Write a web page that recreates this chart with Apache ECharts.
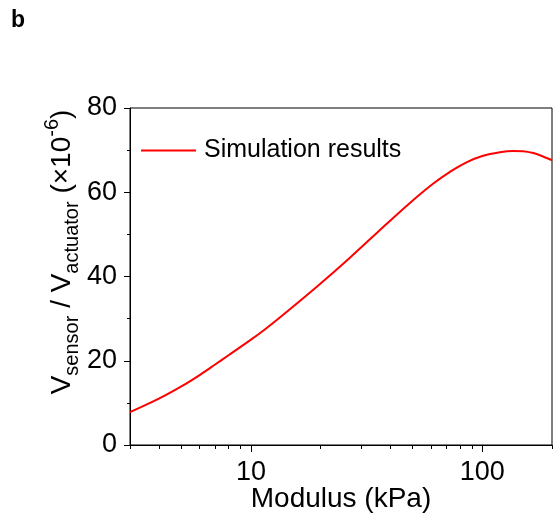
<!DOCTYPE html>
<html>
<head>
<meta charset="utf-8">
<script src="https://cdn.jsdelivr.net/npm/echarts@6/dist/echarts.min.js"></script>
<style>html,body{margin:0;padding:0;background:#fff}#c{width:556px;height:519px}</style>
</head>
<body>
<div id="c"></div>
<script>
var modulus = [3, 4, 5, 6, 7, 8, 10, 11.4, 13.7, 19.2, 26.7, 37.2, 48.5, 61.2, 72.7, 85.4, 100, 119, 136, 150, 166, 183, 200];
var voltageRatio = [7.8, 11.0, 13.9, 16.6, 19.1, 21.3, 25.0, 27.3, 30.8, 37.5, 44.4, 51.7, 57.4, 62.0, 64.9, 67.1, 68.6, 69.5, 69.8, 69.75, 69.3, 68.5, 67.6];
var seriesName = 'Simulation results';
var xMajorTicks = [10, 100];
var xMinorTicks = [3, 4, 5, 6, 7, 8, 9, 20, 30, 40, 50, 60, 70, 80, 90, 200];

var FONT = '"Liberation Sans", Arial, sans-serif';
var chart = echarts.init(document.getElementById('c'), null, {renderer: 'canvas'});
var data = modulus.map(function (m, i) { return [m, voltageRatio[i]]; });

var option = {
  animation: false,
  backgroundColor: '#fff',
  grid: {left: 130, right: 4, top: 108, bottom: 74, show: true, borderColor: '#000', borderWidth: 1,
    backgroundColor: 'transparent', containLabel: false, outerBoundsMode: 'none'},
  legend: {
    data: [{name: seriesName, icon: 'rect'}], left: 141, top: 138, padding: 0,
    itemWidth: 55, itemHeight: 2, itemGap: 0,
    itemStyle: {color: '#ff0000'},
    textStyle: {fontFamily: FONT, fontSize: 25, color: '#000', padding: [0, 0, 0, 3]}
  },
  xAxis: [{
    type: 'log', logBase: 10, min: 3, max: 200, position: 'bottom',
    axisLine: {show: true, lineStyle: {color: '#000', width: 1}},
    axisTick: {show: true, inside: false, length: 7, lineStyle: {color: '#000'}, customValues: xMajorTicks},
    axisLabel: {show: true, fontFamily: FONT, fontSize: 27, color: '#000', margin: 14, customValues: xMajorTicks,
      formatter: function (v) { return String(Math.round(v)); }},
    splitLine: {show: false}, minorTick: {show: false},
    name: 'Modulus (kPa)', nameLocation: 'middle', nameGap: 40, nameMoveOverlap: false,
    nameTextStyle: {fontFamily: FONT, fontSize: 28, color: '#000'}
  }, {
    type: 'log', logBase: 10, min: 3, max: 200, position: 'bottom',
    axisLine: {show: false},
    axisTick: {show: true, inside: false, length: 4, lineStyle: {color: '#000'}, customValues: xMinorTicks},
    axisLabel: {show: false},
    splitLine: {show: false}
  }],
  yAxis: {
    type: 'value', min: 0, max: 80, interval: 20,
    axisLine: {show: true, lineStyle: {color: '#000', width: 1}},
    axisTick: {show: true, inside: false, length: 6, lineStyle: {color: '#000'}},
    minorTick: {show: true, splitNumber: 2, length: 3, lineStyle: {color: '#000'}},
    axisLabel: {fontFamily: FONT, fontSize: 27, color: '#000', margin: 13},
    splitLine: {show: false}
  },
  series: [{
    name: seriesName, type: 'line', xAxisIndex: 0, data: data, smooth: 0.3,
    symbol: 'none', lineStyle: {color: '#ff0000', width: 2}, itemStyle: {color: '#ff0000'}
  }],
  graphic: [{
    type: 'text', left: 11, top: 9,
    style: {text: 'b', font: 'bold 23px ' + FONT, fill: '#000'}
  }, {
    type: 'text', x: 62, y: 252, rotation: Math.PI / 2,
    style: {
      text: '{m|V}{s|sensor}{m| / V}{s|actuator}{m| (×10}{p|-6}{m|)}',
      align: 'center', verticalAlign: 'middle', fill: '#000',
      rich: {
        m: {fontFamily: FONT, fontSize: 28, lineHeight: 40, height: 40, verticalAlign: 'middle', fill: '#000'},
        s: {fontFamily: FONT, fontSize: 20, lineHeight: 20, verticalAlign: 'bottom', fill: '#000'},
        p: {fontFamily: FONT, fontSize: 20, lineHeight: 20, verticalAlign: 'top', fill: '#000'}
      }
    }
  }]
};
chart.setOption(option);
</script>
</body>
</html>
